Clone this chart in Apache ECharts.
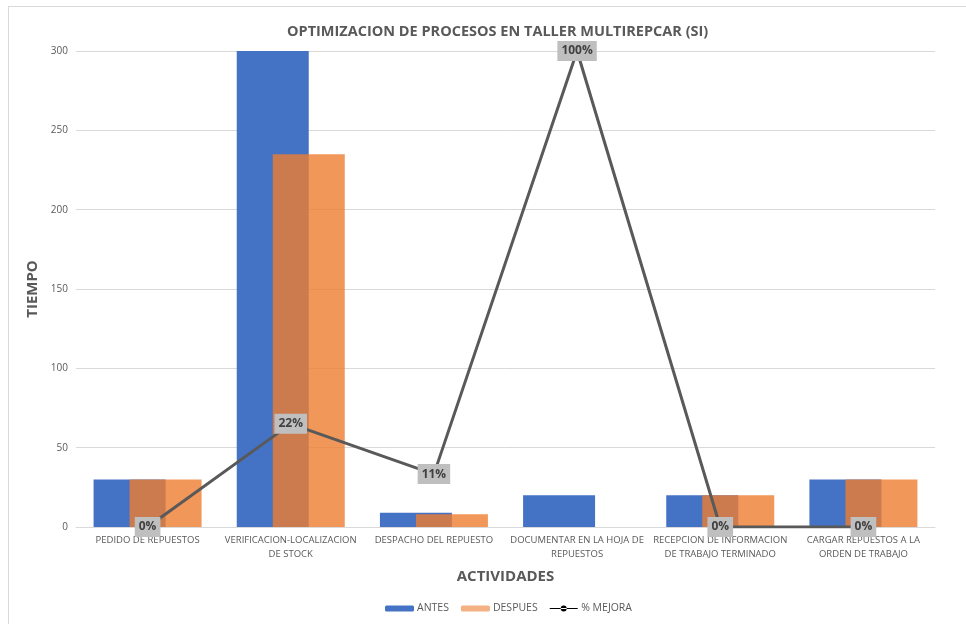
<!DOCTYPE html>
<html>
<head>
<meta charset="utf-8">
<script src="https://cdn.jsdelivr.net/npm/echarts@6/dist/echarts.min.js"></script>
<style>
  html, body { margin: 0; padding: 0; background: #fff; }
  #frame { position: absolute; left: 8px; top: 6px; width: 980px; height: 640px;
           border-top: 1px solid #d9d9d9; border-left: 1px solid #d9d9d9; }
  #chart { position: absolute; left: 0; top: 0; width: 966px; height: 624px; }
</style>
</head>
<body>
<div id="frame"></div>
<div id="chart"></div>
<script>
// Actividades del taller y tiempos medidos
const actividades = [
  'PEDIDO DE REPUESTOS',
  'VERIFICACION-LOCALIZACION DE STOCK',
  'DESPACHO DEL REPUESTO',
  'DOCUMENTAR EN LA HOJA DE REPUESTOS',
  'RECEPCION DE INFORMACION DE TRABAJO TERMINADO',
  'CARGAR REPUESTOS A LA ORDEN DE TRABAJO'
];
// Etiquetas del eje en dos líneas
const etiquetas = [
  'PEDIDO DE REPUESTOS',
  'VERIFICACION-LOCALIZACION\nDE STOCK',
  'DESPACHO DEL REPUESTO',
  'DOCUMENTAR EN LA HOJA DE\nREPUESTOS',
  'RECEPCION DE INFORMACION\nDE TRABAJO TERMINADO',
  'CARGAR REPUESTOS A LA\nORDEN DE TRABAJO'
];
const antes = [30, 300, 9, 20, 20, 30];
const despues = [30, 235, 8, 0, 20, 30];
const mejora = [0, 0.2167, 0.1111, 1.0, 0, 0];
const ticksTiempo = [0, 50, 100, 150, 200, 250, 300];

const FONT = '"Open Sans", sans-serif';
const GRIS = '#595959';

const chart = echarts.init(document.getElementById('chart'), null, { renderer: 'canvas' });
chart.setOption({
  animation: false,
  textStyle: { fontFamily: FONT },
  title: {
    text: 'OPTIMIZACION DE PROCESOS EN TALLER MULTIREPCAR (SI)',
    left: 282, top: 19,
    textStyle: { fontFamily: FONT, fontSize: 14.5, fontWeight: 'bold', color: GRIS }
  },
  legend: {
    bottom: 5, left: 380,
    itemWidth: 29, itemHeight: 6, itemGap: 12,
    textStyle: { fontFamily: FONT, fontSize: 10.5, color: GRIS, padding: [0, 0, 0, -2] },
    data: [
      { name: 'ANTES' },
      { name: 'DESPUES', itemStyle: { color: '#f4b183', opacity: 1 } },
      { name: '% MEJORA', icon: 'path://M0,2.5 L28,2.5 L28,3.5 L0,3.5 Z M11,3 A3,3 0 1 0 17,3 A3,3 0 1 0 11,3 Z', itemStyle: { color: '#000' } }
    ]
  },
  grid: { left: 76, right: 31, top: 51, bottom: 97 },
  xAxis: {
    type: 'category',
    data: actividades,
    name: 'ACTIVIDADES',
    nameLocation: 'middle',
    nameGap: 42,
    nameTextStyle: { fontFamily: FONT, fontSize: 15, fontWeight: 'bold', color: GRIS },
    axisLine: { lineStyle: { color: '#d9d9d9' } },
    axisTick: { show: false },
    axisLabel: {
      interval: 0, fontSize: 9.5, color: GRIS, fontFamily: FONT,
      lineHeight: 14, margin: 6,
      formatter: (v, i) => etiquetas[i]
    }
  },
  yAxis: [{
    type: 'value',
    min: 0, max: 300, interval: 50,
    name: 'TIEMPO',
    nameLocation: 'middle',
    nameGap: 28,
    nameTextStyle: { fontFamily: FONT, fontSize: 15, fontWeight: 'bold', color: GRIS },
    axisLine: { show: false },
    axisTick: { show: false },
    axisLabel: {
      fontSize: 10, color: GRIS, margin: 8,
      formatter: v => ticksTiempo.includes(v) ? String(v) : ''
    },
    splitLine: { lineStyle: { color: '#d9d9d9' } }
  }, {
    type: 'value',
    min: 0, max: 1,
    show: false,
    splitLine: { show: false }
  }],
  series: [
    {
      name: 'ANTES', type: 'bar', data: antes,
      barWidth: 72, barGap: '-50%',
      itemStyle: { color: '#4472c4' },
      z: 2
    },
    {
      name: 'DESPUES', type: 'bar', data: despues,
      barWidth: 72, barGap: '-50%',
      itemStyle: { color: '#ed7d31', opacity: 0.8 },
      z: 3
    },
    {
      name: '% MEJORA', type: 'line', yAxisIndex: 1, data: mejora,
      symbol: 'circle', symbolSize: 0.1, showSymbol: true,
      lineStyle: { color: '#595959', width: 3 },
      itemStyle: { color: '#404040' },
      z: 5,
      label: {
        show: true, position: 'inside',
        formatter: p => Math.round(p.value * 100) + '%',
        backgroundColor: '#bfbfbf',
        padding: [5, 4, 3, 4],
        fontFamily: FONT, fontSize: 12, fontWeight: 'bold', color: '#404040'
      }
    }
  ]
});
</script>
</body>
</html>
